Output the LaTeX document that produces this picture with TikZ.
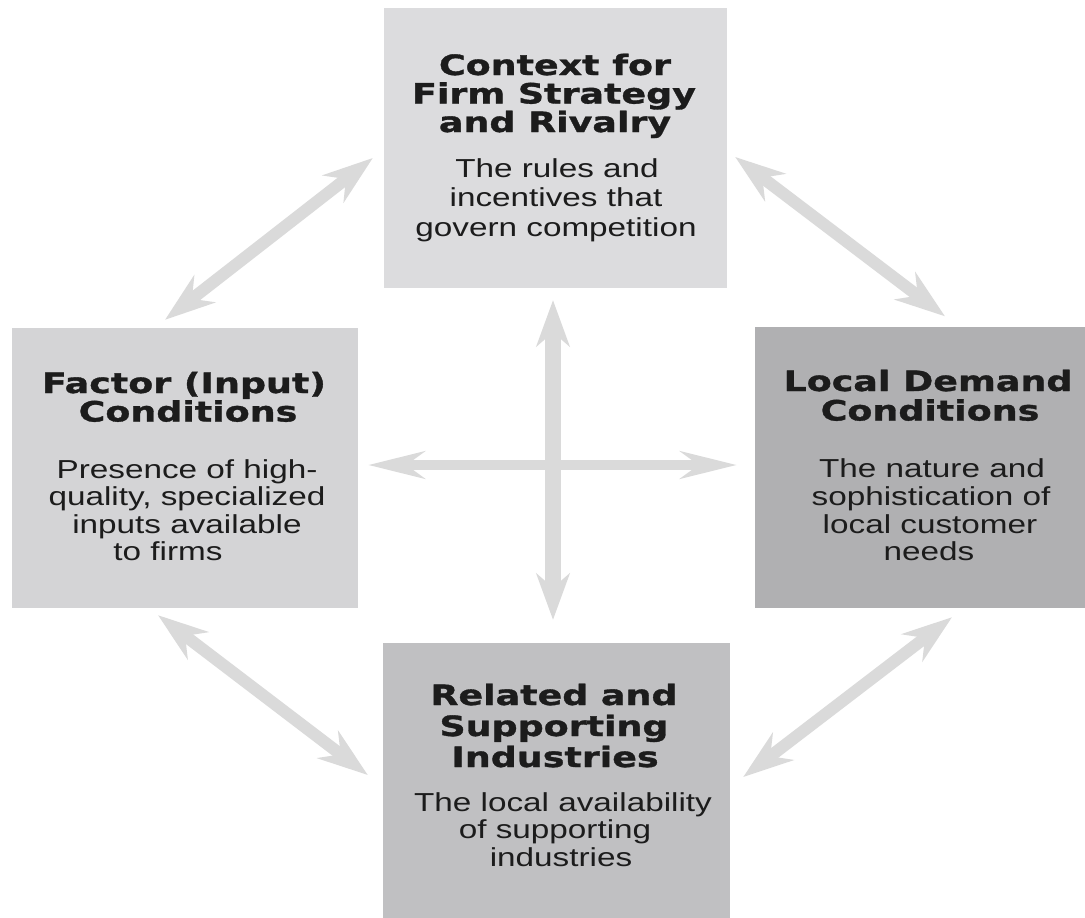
\documentclass[tikz,border=0pt]{standalone}
\usepackage{fontspec}
\setmainfont{Liberation Sans}
\newfontfamily\headfam[FakeStretch=1.3,FakeBold=1.2]{DejaVu Sans}
\newfontfamily\bodyfam[FakeStretch=1.28]{Liberation Sans}
\usetikzlibrary{arrows.meta}
\definecolor{topfill}{RGB}{220,220,222}
\definecolor{leftfill}{RGB}{212,212,214}
\definecolor{rightfill}{RGB}{176,176,178}
\definecolor{botfill}{RGB}{192,192,194}
\definecolor{arrowgray}{RGB}{218,218,218}
\definecolor{txt}{RGB}{28,28,28}
\tikzset{
  box/.style={rectangle, inner sep=0pt, draw=none},
  head/.style={anchor=base, inner sep=0pt, text=txt, font=\headfam\bfseries\fontsize{28}{30}\selectfont},
  body/.style={anchor=base, inner sep=0pt, text=txt, font=\bodyfam\fontsize{26}{28}\selectfont},
  diagarr/.style={draw=arrowgray, line width=12pt, arrows={Stealth[length=50pt,width=34pt,inset=16pt]-Stealth[length=50pt,width=34pt,inset=16pt]}},
  harr/.style={draw=arrowgray, line width=10pt, arrows={Stealth[length=56pt,width=27pt,inset=18pt]-Stealth[length=56pt,width=27pt,inset=18pt]}},
  varr/.style={draw=arrowgray, line width=16pt, arrows={Stealth[length=46pt,width=33pt,inset=14pt]-Stealth[length=46pt,width=33pt,inset=14pt]}}
}
\begin{document}
\begin{tikzpicture}[x=1pt,y=-1pt]
\useasboundingbox[fill=white] (0,0) rectangle (1085,918);
% boxes
\node[box, fill=topfill, minimum width=343pt, minimum height=280pt] (ctx) at (555.5,148) {};
\node[box, fill=leftfill, minimum width=346pt, minimum height=280pt] (fac) at (185,468) {};
\node[box, fill=rightfill, minimum width=330pt, minimum height=281pt] (dem) at (920,467.5) {};
\node[box, fill=botfill, minimum width=347pt, minimum height=275pt] (rel) at (556.5,780.5) {};
% texts
\foreach \t/\x/\y [count=\i] in {Context for/555/75, Firm Strategy/554/103.5, and Rivalry/555/132}
  \node[head] (ch\i) at (\x,\y) {\t};
\foreach \t/\x/\y [count=\i] in {The rules and/557/177, incentives that/556/206.5, govern competition/556/236}
  \node[body] (cb\i) at (\x,\y) {\t};
\foreach \t/\x/\y [count=\i] in {Factor (Input)/184/393, Conditions/188/421.5}
  \node[head] (fh\i) at (\x,\y) {\t};
\foreach \t/\x/\y [count=\i] in {Presence of high-/187/478, {quality, specialized}/187/505.5, inputs available/187/533, to firms/168/560}
  \node[body] (fb\i) at (\x,\y) {\t};
\foreach \t/\x/\y [count=\i] in {Local Demand/928/391, Conditions/930/420.5}
  \node[head] (dh\i) at (\x,\y) {\t};
\foreach \t/\x/\y [count=\i] in {The nature and/932/477, sophistication of/931/505, local customer/930/533, needs/929/560}
  \node[body] (db\i) at (\x,\y) {\t};
\foreach \t/\x/\y [count=\i] in {Related and/554/705, Supporting/554/736, Industries/555/767}
  \node[head] (rh\i) at (\x,\y) {\t};
\foreach \t/\x/\y [count=\i] in {The local availability/563/811, of supporting/555/838, industries/561/866}
  \node[body] (rb\i) at (\x,\y) {\t};
% arrows
\draw[varr, shorten <=12pt, shorten >=23pt] ([xshift=-2.5pt]ctx.south) -- ([xshift=-3.5pt]rel.north);
\draw[harr, shorten <=10pt, shorten >=18pt] ([yshift=3pt]fac.east) -- ([yshift=2.5pt]dem.west);
\draw[diagarr] ([xshift=-20pt,yshift=8pt]fac.north) -- ([xshift=-11pt,yshift=-10pt]ctx.west);
\draw[diagarr] ([xshift=8pt,yshift=-9pt]ctx.east) -- ([xshift=25pt,yshift=10.5pt]dem.north);
\draw[diagarr] ([xshift=-27pt,yshift=-7pt]fac.south) -- ([xshift=-15pt,yshift=5.5pt]rel.west);
\draw[diagarr] ([xshift=32pt,yshift=-9pt]dem.south) -- ([xshift=13pt,yshift=3.5pt]rel.east);
\end{tikzpicture}
\end{document}
